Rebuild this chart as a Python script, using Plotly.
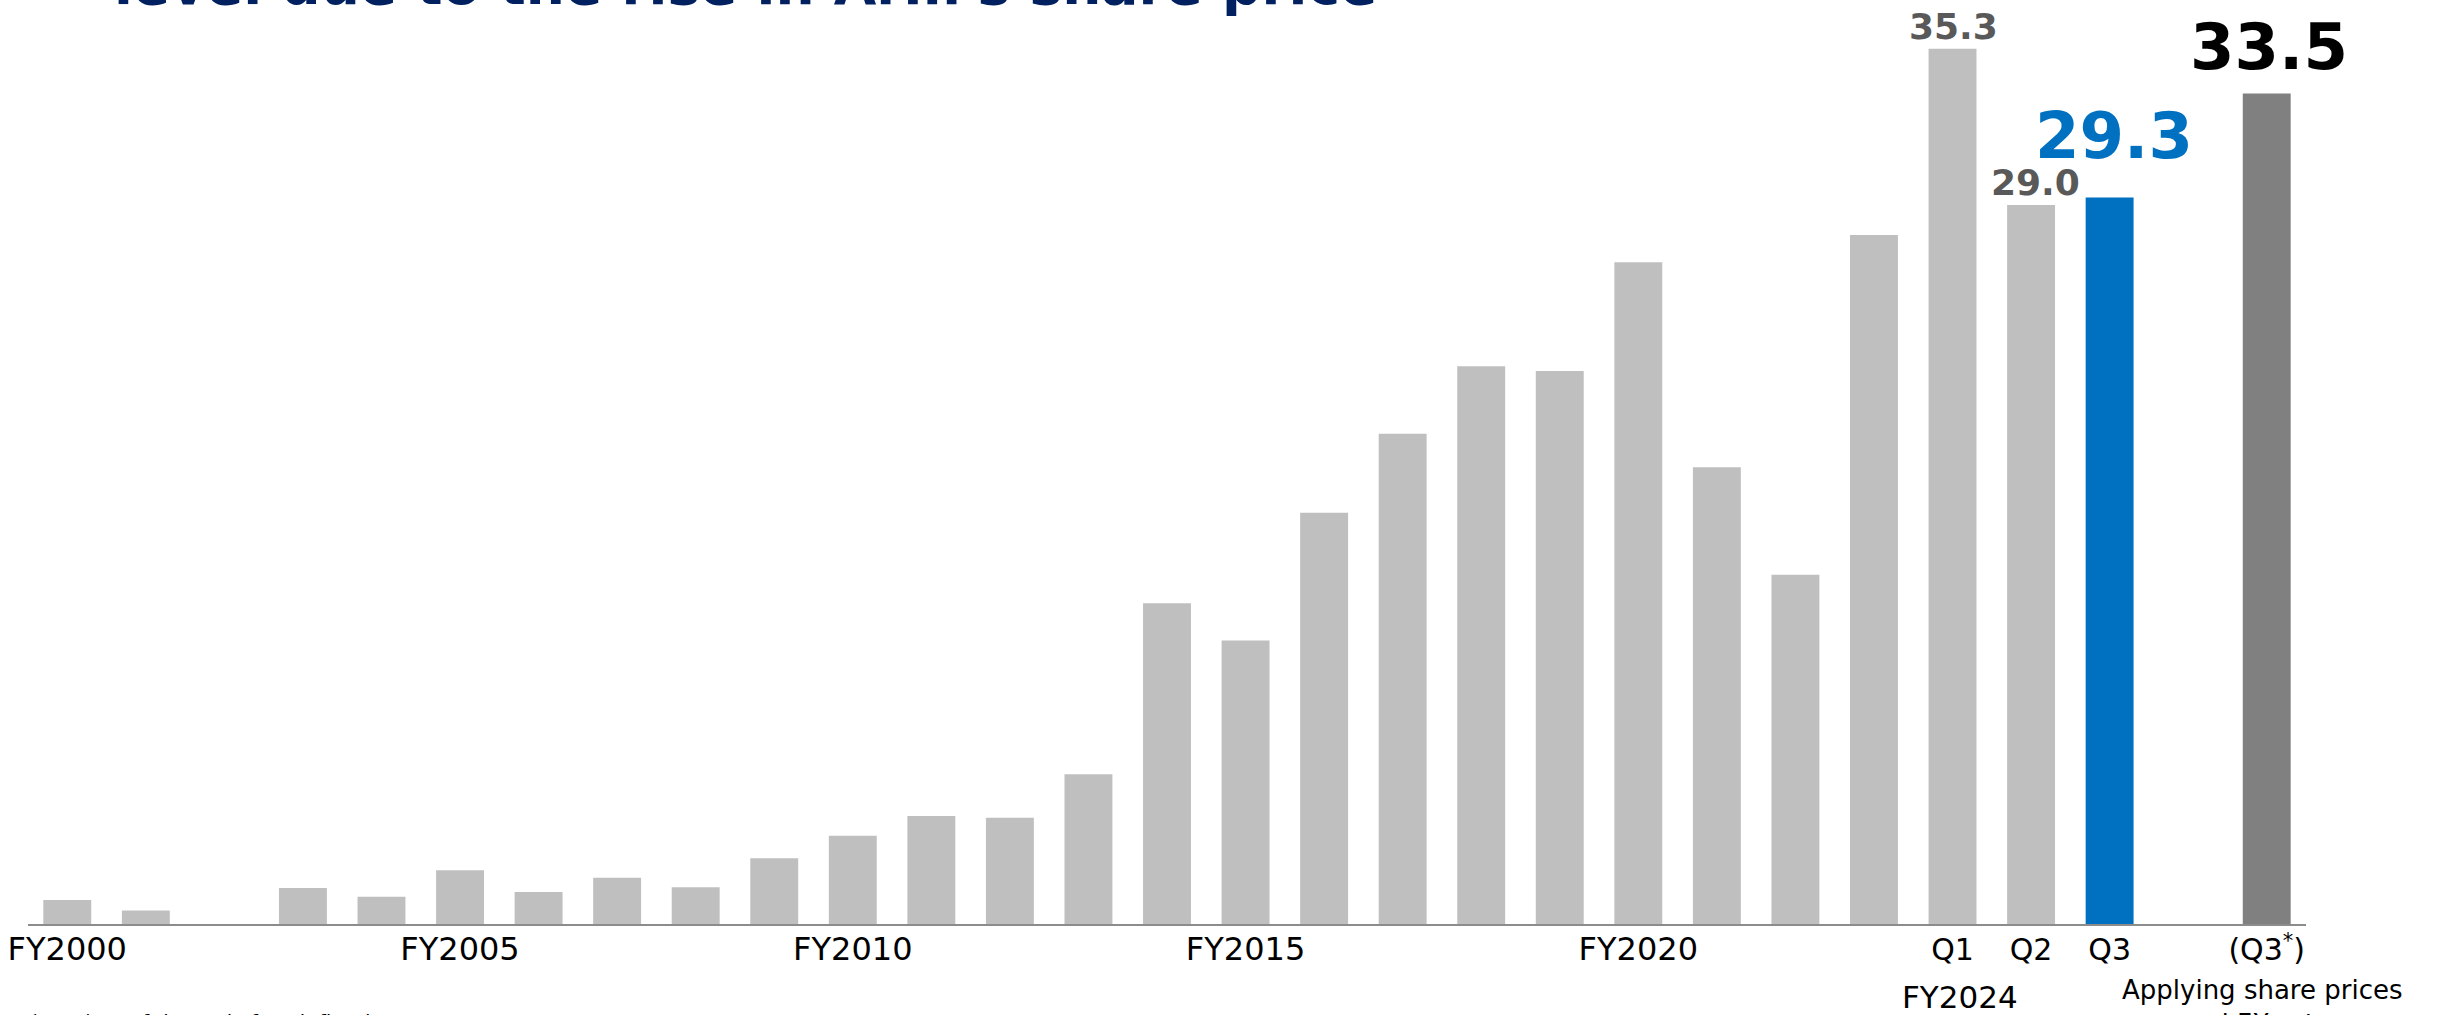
import plotly.graph_objects as go

# Fiscal-year and FY2024 quarterly values (trillion yen)
categories = ["FY2000", "FY2001", "FY2002", "FY2003", "FY2004", "FY2005", "FY2006",
              "FY2007", "FY2008", "FY2009", "FY2010", "FY2011", "FY2012", "FY2013",
              "FY2014", "FY2015", "FY2016", "FY2017", "FY2018", "FY2019", "FY2020",
              "FY2021", "FY2022", "FY2023", "Q1", "Q2", "Q3", "spacer", "(Q3*)"]
values = [0.97, 0.54, None, 1.45, 1.10, 2.17, 1.29,
          1.87, 1.48, 2.65, 3.56, 4.36, 4.29, 6.04,
          12.94, 11.44, 16.59, 19.77, 22.50, 22.31, 26.69,
          18.42, 14.09, 27.79, 35.3, 29.0, 29.3, None, 33.5]

tick_vals = ["FY2000", "FY2005", "FY2010", "FY2015", "FY2020", "Q1", "Q2", "Q3", "(Q3*)"]
tick_text = ["FY2000", "FY2005", "FY2010", "FY2015", "FY2020",
             "<span style='font-size:30px'>Q1</span>",
             "<span style='font-size:30px'>Q2</span>",
             "<span style='font-size:30px'>Q3</span>",
             "<span style='font-size:30px'>(Q3<sup>*</sup>)</span>"]

title_text = "level due to the rise in Arm's share price"
note_text = "(Note) As of the end of each fiscal year"
fy2024_text = "FY2024"
q3_star_note = "Applying share prices<br>and FX rates"

GRAY = "#BFBFBF"
BLUE = "#0070C0"
DARK = "#808080"
FONT = "DejaVu Sans"

colors = []
for c in categories:
    if c == "Q3":
        colors.append(BLUE)
    elif c == "(Q3*)":
        colors.append(DARK)
    else:
        colors.append(GRAY)

fig = go.Figure(go.Bar(
    x=categories, y=values, marker=dict(color=colors, line=dict(width=0)),
    hoverinfo="skip",
))

# value labels on the FY2024 bars: (category, size, colour, x shift, y shift)
label_styles = [
    ("Q1", 36, "#595959", 1, 0),
    ("Q2", 36, "#595959", 4, 0),
    ("Q3", 64, BLUE, 4, 23),
    ("(Q3*)", 64, "#000000", 2, 7),
]
annotations = []
for cat, size, col, dx, dy in label_styles:
    v = values[categories.index(cat)]
    annotations.append(dict(
        x=cat, y=v, xref="x", yref="y", text=f"{v:.1f}", showarrow=False,
        yanchor="bottom", xanchor="center", xshift=dx, yshift=dy,
        font=dict(family=FONT, size=size, color=col, weight="bold"),
    ))

annotations += [
    dict(x=0, y=1, xref="paper", yref="paper", text=f"<b>{title_text}</b>",
         showarrow=False, xanchor="left", yanchor="bottom", xshift=84, yshift=-19,
         font=dict(family=FONT, size=55, color="#002060")),
    dict(x="Q1", y=0, xref="x", yref="paper", text=fy2024_text, showarrow=False,
         xanchor="center", yanchor="top", xshift=7, yshift=-53,
         font=dict(family=FONT, size=31, color="#000000")),
    dict(x="(Q3*)", y=0, xref="x", yref="paper", text=q3_star_note, showarrow=False,
         xanchor="center", yanchor="top", xshift=-5, yshift=-49,
         font=dict(family=FONT, size=26, color="#000000")),
    dict(x=0, y=0, xref="paper", yref="paper", text=note_text, showarrow=False,
         xanchor="left", yanchor="top", xshift=0, yshift=-84,
         font=dict(family=FONT, size=20, color="#000000")),
]

fig.update_layout(
    width=2440, height=1015,
    margin=dict(l=28, r=134, t=0, b=91),
    paper_bgcolor="white", plot_bgcolor="white",
    bargap=0.39, showlegend=False,
    font=dict(family=FONT, color="#000000"),
    annotations=annotations,
)
fig.update_xaxes(
    type="category", categoryorder="array", categoryarray=categories,
    range=[-0.5, len(categories) - 0.5],
    tickmode="array", tickvals=tick_vals, ticktext=tick_text,
    tickfont=dict(family=FONT, size=32, color="#000000"),
    ticklabelstandoff=-4,
    showline=True, linecolor="#8C8C8C", linewidth=2,
    ticks="", showgrid=False, zeroline=False,
)
fig.update_yaxes(
    range=[0, 37.27], visible=False, showgrid=False, zeroline=False,
)

fig.write_html("out.html")
